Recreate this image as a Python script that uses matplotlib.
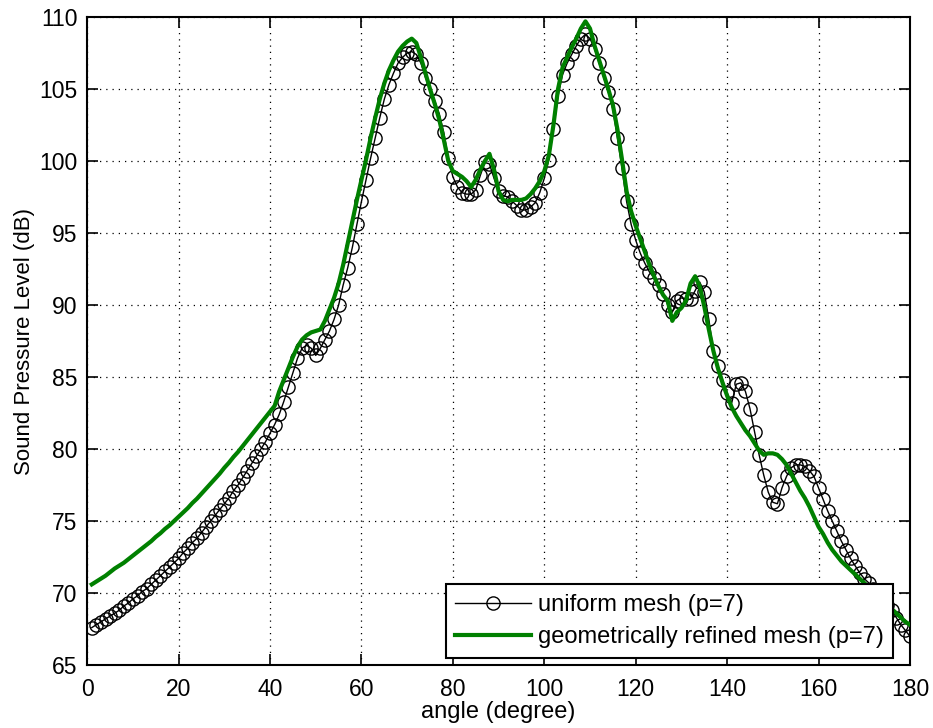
import numpy as np
import matplotlib
matplotlib.use("Agg")
import matplotlib.pyplot as plt

plt.rcParams['font.family'] = ['Liberation Sans', 'DejaVu Sans']

angle = np.arange(1, 181)

uniform_spl = [
    67.6, 67.8, 68.0, 68.2, 68.4, 68.6, 68.8, 69.1, 69.3, 69.6,   # 1-10
    69.8, 70.1, 70.3, 70.6, 70.9, 71.2, 71.5, 71.8, 72.1, 72.4,   # 11-20
    72.8, 73.1, 73.5, 73.8, 74.2, 74.6, 75.0, 75.4, 75.8, 76.2,   # 21-30
    76.6, 77.1, 77.5, 78.0, 78.5, 79.0, 79.5, 80.0, 80.5, 81.1,   # 31-40
    81.7, 82.4, 83.3, 84.3, 85.3, 86.3, 87.0, 87.2, 87.0, 86.5,   # 41-50
    87.0, 87.6, 88.2, 89.0, 90.0, 91.4, 92.6, 94.0, 95.6, 97.2,   # 51-60
    98.7, 100.2, 101.6, 103.0, 104.3, 105.3, 106.1, 106.8, 107.2, 107.5,  # 61-70
    107.6, 107.4, 106.8, 105.8, 105.0, 104.2, 103.3, 102.0, 100.2, 98.9,  # 71-80
    98.2, 97.8, 97.7, 97.7, 98.0, 99.0, 99.9, 99.8, 98.8, 97.9,   # 81-90
    97.6, 97.5, 97.2, 96.9, 96.6, 96.6, 96.8, 97.1, 97.8, 98.8,   # 91-100
    100.1, 102.2, 104.5, 106.0, 106.8, 107.4, 108.0, 108.5, 108.8, 108.5,  # 101-110
    107.8, 106.8, 105.8, 104.8, 103.6, 101.6, 99.5, 97.2, 95.6, 94.5,  # 111-120
    93.6, 92.9, 92.3, 91.9, 91.4, 90.8, 90.0, 89.5, 90.3, 90.5,   # 121-130
    90.4, 90.4, 91.0, 91.6, 90.9, 89.0, 86.8, 85.8, 84.8, 83.9,   # 131-140
    83.2, 84.5, 84.6, 84.0, 82.8, 81.2, 79.6, 78.2, 77.0, 76.3,   # 141-150
    76.2, 77.3, 78.1, 78.7, 78.9, 78.9, 78.8, 78.5, 78.1, 77.3,   # 151-160
    76.5, 75.7, 75.0, 74.3, 73.6, 73.0, 72.4, 71.9, 71.4, 71.0,   # 161-170
    70.7, 70.3, 70.0, 69.6, 69.2, 68.8, 68.3, 67.8, 67.4, 67.0,   # 171-180
]

refined_spl = [
    70.6, 70.8, 71.0, 71.2, 71.45, 71.7, 71.9, 72.1, 72.35, 72.6,   # 1-10
    72.85, 73.1, 73.35, 73.6, 73.9, 74.15, 74.45, 74.7, 75.0, 75.3,  # 11-20
    75.6, 75.9, 76.25, 76.55, 76.9, 77.25, 77.6, 77.95, 78.3, 78.7,  # 21-30
    79.05, 79.45, 79.8, 80.2, 80.6, 81.0, 81.4, 81.8, 82.2, 82.6,    # 31-40
    83.0, 84.0, 84.8, 85.6, 86.4, 87.1, 87.6, 87.9, 88.1, 88.2,     # 41-50
    88.3, 88.9, 89.7, 90.5, 91.5, 92.8, 94.3, 95.8, 97.3, 98.7,     # 51-60
    100.1, 101.6, 103.0, 104.3, 105.4, 106.3, 107.0, 107.6, 108.0, 108.3,  # 61-70
    108.5, 108.2, 107.2, 106.1, 105.0, 104.0, 102.9, 101.5, 100.0, 99.3,   # 71-80
    99.1, 98.9, 98.6, 98.2, 98.7, 99.4, 100.0, 100.5, 99.4, 97.9,   # 81-90
    97.3, 97.2, 97.3, 97.3, 97.3, 97.4, 97.7, 98.1, 98.6, 99.3,     # 91-100
    100.4, 102.5, 105.0, 106.5, 107.2, 107.9, 108.5, 109.2, 109.7, 109.2,  # 101-110
    108.0, 107.0, 106.0, 105.0, 103.9, 102.2, 100.1, 97.9, 96.5, 95.5,     # 111-120
    94.6, 93.7, 92.8, 92.0, 91.3, 90.7, 90.3, 88.9, 89.5, 89.8,     # 121-130
    90.3, 91.5, 92.0, 91.3, 89.9, 88.3, 86.8, 85.6, 84.6, 83.7,     # 131-140
    82.9, 82.3, 81.8, 81.3, 80.9, 80.4, 79.9, 79.6, 79.7, 79.7,     # 141-150
    79.6, 79.3, 78.9, 78.3, 77.7, 77.1, 76.6, 76.0, 75.3, 74.6,     # 151-160
    74.1, 73.5, 73.0, 72.6, 72.2, 71.9, 71.6, 71.3, 71.0, 70.7,     # 161-170
    70.4, 70.1, 69.8, 69.5, 69.2, 68.9, 68.6, 68.3, 68.0, 67.8,     # 171-180
]

x_ticks = [0, 20, 40, 60, 80, 100, 120, 140, 160, 180]
y_ticks = [65, 70, 75, 80, 85, 90, 95, 100, 105, 110]

fig = plt.figure(figsize=(9.33, 7.28), dpi=100)
ax = fig.add_axes([0.0935, 0.0865, 0.9818 - 0.0935 - 0.0065, 0.9766 - 0.0865])

ax.plot(angle, uniform_spl, color='black', linewidth=1.0, marker='o',
        markersize=9.5, markerfacecolor='none', markeredgecolor='black',
        markeredgewidth=1.0, label='uniform mesh (p=7)', zorder=3)
ax.plot(angle, refined_spl, color='#008000', linewidth=3.0,
        label='geometrically refined mesh (p=7)', zorder=4)

ax.set_xlim(0, 180)
ax.set_ylim(65, 110)
ax.set_xticks(x_ticks)
ax.set_yticks(y_ticks)
ax.tick_params(direction='in', length=8, width=1.2, labelsize=16.5,
               top=True, right=True)
ax.tick_params(axis='x', pad=9)
ax.tick_params(axis='y', pad=7)
for s in ax.spines.values():
    s.set_linewidth(1.5)
ax.grid(True, color='black', linestyle=(0, (1, 4)), linewidth=0.9)
ax.set_axisbelow(True)

ax.set_xlabel('angle (degree)', fontsize=17, labelpad=0)
ax.set_ylabel('Sound Pressure Level (dB)', fontsize=16, labelpad=3)

leg = ax.legend(loc='lower right', bbox_to_anchor=(0.9795, 0.011), fontsize=17,
                fancybox=False, framealpha=1, edgecolor='black',
                handlelength=3.2, borderpad=0.4, labelspacing=0.45,
                handletextpad=0.3, borderaxespad=0.0)
leg.get_frame().set_linewidth(1.5)

fig.savefig('out.png', dpi=100)
